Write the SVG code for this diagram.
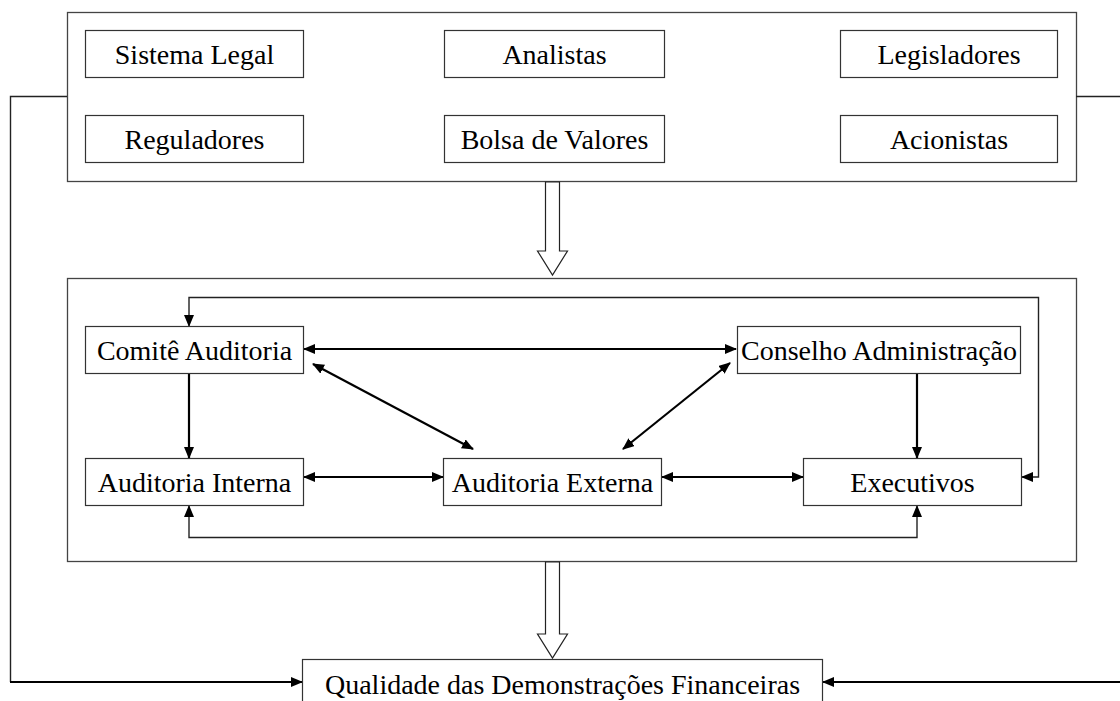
<svg xmlns="http://www.w3.org/2000/svg" width="1120" height="701" viewBox="0 0 1120 701">
<defs>
<marker id="ah" markerUnits="userSpaceOnUse" markerWidth="12" markerHeight="10" refX="11" refY="5" orient="auto-start-reverse" viewBox="0 0 12 10">
<path d="M0,0 L12,5 L0,10 z" fill="#000"/>
</marker>
<style>
.box{fill:#fff;stroke:#333;stroke-width:1.2}
.frame{fill:none;stroke:#444;stroke-width:1.3}
.t{font-family:"Liberation Serif","Times New Roman",serif;font-size:28px;fill:#000;text-anchor:middle}
.c{fill:none;stroke:#000;stroke-width:2.2}
.thin{fill:none;stroke:#222;stroke-width:1.4}
.hollow{fill:#fff;stroke:#222;stroke-width:1.2}
</style>
</defs>
<rect width="1120" height="701" fill="#fff"/>

<g id="top-frame"><rect class="frame" x="67.5" y="12.5" width="1009" height="169"/></g>
<g id="mid-frame"><rect class="frame" x="67.5" y="278.5" width="1009" height="283"/></g>

<g id="connectors">
<path class="thin" d="M67,96.5 H10.5 V682"/>
<path class="c" d="M10,682 H302" marker-end="url(#ah)"/>
<path class="thin" d="M1076,96.5 H1120"/>
<path class="c" d="M1120,682 H823" marker-end="url(#ah)"/>
<polygon class="hollow" points="545.5,182 559.5,182 559.5,251 567.5,251 552.5,275 537.5,251 545.5,251"/>
<polygon class="hollow" points="545.5,562 559.5,562 559.5,634 567.5,634 552.5,658 537.5,634 545.5,634"/>
<path class="c" d="M304,349 H736" marker-start="url(#ah)" marker-end="url(#ah)"/>
<path class="c" d="M313,364 L473,449" marker-start="url(#ah)" marker-end="url(#ah)"/>
<path class="c" d="M730,363 L623,449" marker-start="url(#ah)" marker-end="url(#ah)"/>
<path class="c" d="M189,374 V458" marker-end="url(#ah)"/>
<path class="c" d="M917,374 V458" marker-end="url(#ah)"/>
<path class="c" d="M304,477 H443" marker-start="url(#ah)" marker-end="url(#ah)"/>
<path class="c" d="M662,477 H803" marker-start="url(#ah)" marker-end="url(#ah)"/>
<path class="thin" d="M189,326 V297.5 H1038.5 V477 H1022" marker-start="url(#ah)" marker-end="url(#ah)"/>
<path class="thin" d="M189,506 V537.5 H917 V506" marker-start="url(#ah)" marker-end="url(#ah)"/>
</g>

<g id="sistema-legal"><rect class="box" x="85.5" y="30.5" width="218" height="47"/><text class="t" x="194.5" y="64">Sistema Legal</text></g>
<g id="analistas"><rect class="box" x="444.5" y="30.5" width="220" height="47"/><text class="t" x="554.5" y="64">Analistas</text></g>
<g id="legisladores"><rect class="box" x="840.5" y="30.5" width="217" height="47"/><text class="t" x="949" y="64">Legisladores</text></g>
<g id="reguladores"><rect class="box" x="85.5" y="115.5" width="218" height="47"/><text class="t" x="194.5" y="149">Reguladores</text></g>
<g id="bolsa"><rect class="box" x="444.5" y="115.5" width="220" height="47"/><text class="t" x="554.5" y="149">Bolsa de Valores</text></g>
<g id="acionistas"><rect class="box" x="840.5" y="115.5" width="217" height="47"/><text class="t" x="949" y="149">Acionistas</text></g>

<g id="comite"><rect class="box" x="85.5" y="326.5" width="218" height="47"/><text class="t" x="194.5" y="360">Comitê Auditoria</text></g>
<g id="conselho"><rect class="box" x="737.5" y="326.5" width="283" height="47"/><text class="t" x="879" y="360">Conselho Administração</text></g>
<g id="interna"><rect class="box" x="85.5" y="458.5" width="218" height="47"/><text class="t" x="194.5" y="492">Auditoria Interna</text></g>
<g id="externa"><rect class="box" x="443.5" y="458.5" width="218" height="47"/><text class="t" x="552.5" y="492">Auditoria Externa</text></g>
<g id="executivos"><rect class="box" x="803.5" y="458.5" width="218" height="47"/><text class="t" x="912.5" y="492">Executivos</text></g>

<g id="qualidade"><rect class="box" x="302.5" y="659.5" width="520" height="60"/><text class="t" x="562.5" y="694">Qualidade das Demonstrações Financeiras</text></g>
</svg>
